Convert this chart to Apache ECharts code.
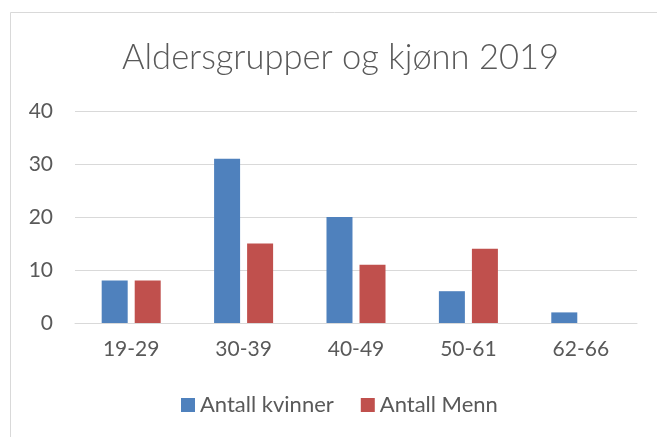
<!DOCTYPE html>
<html>
<head>
<meta charset="utf-8">
<script src="https://cdn.jsdelivr.net/npm/echarts@6/dist/echarts.min.js"></script>
<style>
  html, body { margin: 0; padding: 0; background: #fff; }
  #chart { width: 657px; height: 437px; }
</style>
</head>
<body>
<div id="chart"></div>
<script>
// aldersgrupper
var categories = ["19-29", "30-39", "40-49", "50-61", "62-66"];
var kvinner = [8, 31, 20, 6, 2];
var menn = [8, 15, 11, 14, 0];
var yTicks = [0, 10, 20, 30, 40];

var chart = echarts.init(document.getElementById("chart"));
var font = "Lato, 'Open Sans', sans-serif";

var option = {
  animation: false,
  backgroundColor: "#fff",
  graphic: [{
    type: "rect",
    shape: { x: 10.5, y: 12.5, width: 700, height: 500 },
    style: { fill: "none", stroke: "#d9d9d9", lineWidth: 1 },
    silent: true
  }],
  title: {
    text: "Aldersgrupper og kjønn 2019",
    left: 117,
    top: 35,
    textStyle: { fontFamily: font, fontSize: 34.5, fontWeight: 300, color: "#595959" }
  },
  legend: {
    bottom: 16,
    left: 176,
    itemWidth: 14,
    itemHeight: 14,
    itemGap: 27,
    icon: "rect",
    textStyle: { fontFamily: font, fontSize: 22, color: "#595959" },
    data: ["Antall kvinner", "Antall Menn"]
  },
  grid: { left: 75, right: 20, top: 111, bottom: 114 },
  xAxis: {
    type: "category",
    data: categories,
    axisLine: { lineStyle: { color: "#d9d9d9", width: 1 } },
    axisTick: { show: false },
    axisLabel: { fontFamily: font, fontSize: 21, color: "#595959", margin: 16 }
  },
  yAxis: {
    type: "value",
    min: yTicks[0],
    max: yTicks[yTicks.length - 1],
    interval: 10,
    axisLine: { show: false },
    axisTick: { show: false },
    splitLine: { lineStyle: { color: "#d9d9d9" } },
    axisLabel: { fontFamily: font, fontSize: 21, color: "#595959", margin: 22 }
  },
  series: [
    {
      name: "Antall kvinner",
      type: "bar",
      data: kvinner,
      barWidth: 26,
      barGap: "27%",
      itemStyle: { color: "#4f81bd" }
    },
    {
      name: "Antall Menn",
      type: "bar",
      data: menn,
      barWidth: 26,
      itemStyle: { color: "#c0504d" }
    }
  ]
};

chart.setOption(option);
</script>
</body>
</html>
